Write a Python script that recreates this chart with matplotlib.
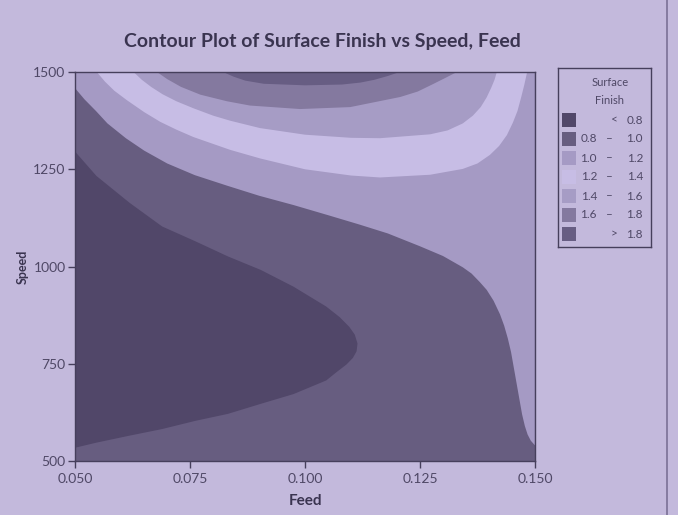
import matplotlib
matplotlib.use("Agg")
from matplotlib import pyplot as plt
from matplotlib.lines import Line2D

plt.rcParams['font.family'] = ['Lato', 'DejaVu Sans']

# contour levels and the fill colour of each band (lowest first)
levels = [0.8, 1.0, 1.2, 1.4, 1.6, 1.8]
band_colors = ["#514769", "#675d80", "#a59ac4", "#c7bde5", "#a69cc5", "#84799f", "#675d83"]

# contour lines (feed, speed)
feed_08 = [0.0500, 0.0546, 0.0618, 0.0689, 0.0761, 0.0832, 0.0904, 0.0975, 0.1046, 0.1075, 0.1096,
           0.1108, 0.1114, 0.1112, 0.1104, 0.1090, 0.1068, 0.1046, 0.0975, 0.0904, 0.0832, 0.0761,
           0.0689, 0.0618, 0.0546, 0.0500]
speed_08 = [1295, 1233, 1164, 1103, 1065, 1026, 991, 948, 897, 870, 845,
            825, 802, 782, 765, 748, 728, 707, 672, 647, 621, 603,
            582, 565, 547, 534]

feed_10 = [0.0500, 0.0520, 0.0545, 0.0570, 0.0610, 0.0650, 0.0700, 0.0760, 0.0830, 0.0900, 0.0975,
           0.1050, 0.1118, 0.1180, 0.1250, 0.1300, 0.1343, 0.1362, 0.1380, 0.1395, 0.1410, 0.1424,
           0.1433, 0.1441, 0.1448, 0.1454, 0.1460, 0.1466, 0.1472, 0.1478, 0.1484, 0.1491, 0.1500]
speed_10 = [1458, 1430, 1400, 1368, 1330, 1298, 1265, 1235, 1208, 1182, 1158,
            1132, 1108, 1085, 1052, 1027, 998, 982, 960, 940, 912, 877,
            848, 815, 780, 740, 700, 660, 620, 590, 568, 552, 540]

feed_12 = [0.0547, 0.0565, 0.0585, 0.0612, 0.0650, 0.0685, 0.0720, 0.0757, 0.0837, 0.0902, 0.1000,
           0.1100, 0.1163, 0.1272, 0.1343, 0.1375, 0.1402, 0.1422, 0.1439, 0.1452, 0.1462, 0.1470,
           0.1477, 0.1483]
speed_12 = [1500, 1475, 1452, 1428, 1397, 1372, 1352, 1333, 1300, 1278, 1250,
            1234, 1229, 1236, 1251, 1265, 1287, 1310, 1338, 1370, 1400, 1435,
            1468, 1500]

feed_14 = [0.0627, 0.0645, 0.0665, 0.0690, 0.0720, 0.0757, 0.0800, 0.0837, 0.0902, 0.1000, 0.1100,
           0.1163, 0.1272, 0.1310, 0.1343, 0.1365, 0.1382, 0.1395, 0.1405, 0.1412, 0.1417]
speed_14 = [1500, 1480, 1462, 1443, 1425, 1407, 1388, 1375, 1356, 1339, 1331,
            1330, 1340, 1350, 1368, 1388, 1410, 1435, 1460, 1480, 1500]

feed_16 = [0.0678, 0.0700, 0.0730, 0.0772, 0.0830, 0.0880, 0.0989, 0.1098, 0.1207, 0.1245, 0.1278,
           0.1305, 0.1330]
speed_16 = [1500, 1482, 1462, 1442, 1425, 1414, 1405, 1410, 1436, 1450, 1469,
            1485, 1500]

feed_18 = [0.0822, 0.0845, 0.0870, 0.0910, 0.1000, 0.1080, 0.1120, 0.1150, 0.1180, 0.1205]
speed_18 = [1500, 1488, 1478, 1470, 1466, 1468, 1473, 1480, 1490, 1500]

x_ticks = [0.050, 0.075, 0.100, 0.125, 0.150]
y_ticks = [500, 750, 1000, 1250, 1500]

bg = "#c3b9dc"
ink = "#463f5c"
txt = "#4f4866"

fig = plt.figure(figsize=(6.78, 5.15), dpi=100, facecolor=bg)
ax = fig.add_axes([0.111, 0.105, 0.678, 0.755])
ax.set_facecolor(band_colors[1])

# region above 1.0 closes along the right and top edges
ax.fill(feed_10 + [0.15, 0.05], speed_10 + [1500, 1500], color=band_colors[2], lw=0)
# the upper bands close along the top edge
ax.fill(feed_12, speed_12, color=band_colors[3], lw=0)
ax.fill(feed_14, speed_14, color=band_colors[4], lw=0)
ax.fill(feed_16, speed_16, color=band_colors[5], lw=0)
ax.fill(feed_18, speed_18, color=band_colors[6], lw=0)
# below 0.8 closes along the left edge
ax.fill(feed_08, speed_08, color=band_colors[0], lw=0)

ax.set_xlim(0.05, 0.15)
ax.set_ylim(500, 1500)
ax.set_xticks(x_ticks)
ax.set_xticklabels(["%.3f" % v for v in x_ticks])
ax.set_yticks(y_ticks)
ax.tick_params(direction="out", length=5, width=1, color=ink, labelcolor=txt,
               labelsize=10, pad=2)
ax.tick_params(axis="x", pad=4)
for sp in ax.spines.values():
    sp.set_color(ink)
    sp.set_linewidth(1)

ax.set_xlabel("Feed", fontsize=11, fontweight="bold", color="#3a3450", labelpad=6)
ax.set_ylabel("Speed", fontsize=9, fontweight="bold", color="#3a3450", labelpad=3)

fig.text(0.475, 0.92, "Contour Plot of Surface Finish vs Speed, Feed", ha="center", va="center",
         fontsize=14, fontweight="bold", color="#3a3450")

# legend drawn in its own axes, pixel units
lg = fig.add_axes([558 / 678, 1 - 247 / 515, 93 / 678, 179 / 515])
lg.set_xlim(0, 93)
lg.set_ylim(179, 0)
lg.set_facecolor(bg)
lg.set_xticks([])
lg.set_yticks([])
for sp in lg.spines.values():
    sp.set_color(ink)
    sp.set_linewidth(1)

fs = 8.5
lg.text(52, 14, "Surface", ha="center", va="center", fontsize=8, color=txt)
lg.text(52, 33, "Finish", ha="center", va="center", fontsize=8, color=txt)

n = len(band_colors)
for i in range(n):
    yy = 52 + i * 19
    lg.add_patch(plt.Rectangle((4, yy - 7), 14, 14, color=band_colors[i], lw=0))
    if i == 0:
        lg.text(56, yy, "<", ha="center", va="center", fontsize=fs, color=txt)
        lg.text(85, yy, "%.1f" % levels[0], ha="right", va="center", fontsize=fs, color=txt)
    elif i == n - 1:
        lg.text(56, yy, ">", ha="center", va="center", fontsize=fs, color=txt)
        lg.text(85, yy, "%.1f" % levels[-1], ha="right", va="center", fontsize=fs, color=txt)
    else:
        lg.text(39, yy, "%.1f" % levels[i - 1], ha="right", va="center", fontsize=fs, color=txt)
        lg.text(51, yy, "–", ha="center", va="center", fontsize=fs, color=txt)
        lg.text(85, yy, "%.1f" % levels[i], ha="right", va="center", fontsize=fs, color=txt)

# edge of the page in the photo
fig.add_artist(Line2D([667 / 678, 667 / 678], [0, 1], color="#7a7096", lw=1.2))

fig.savefig("out.png", dpi=100, facecolor=bg)
